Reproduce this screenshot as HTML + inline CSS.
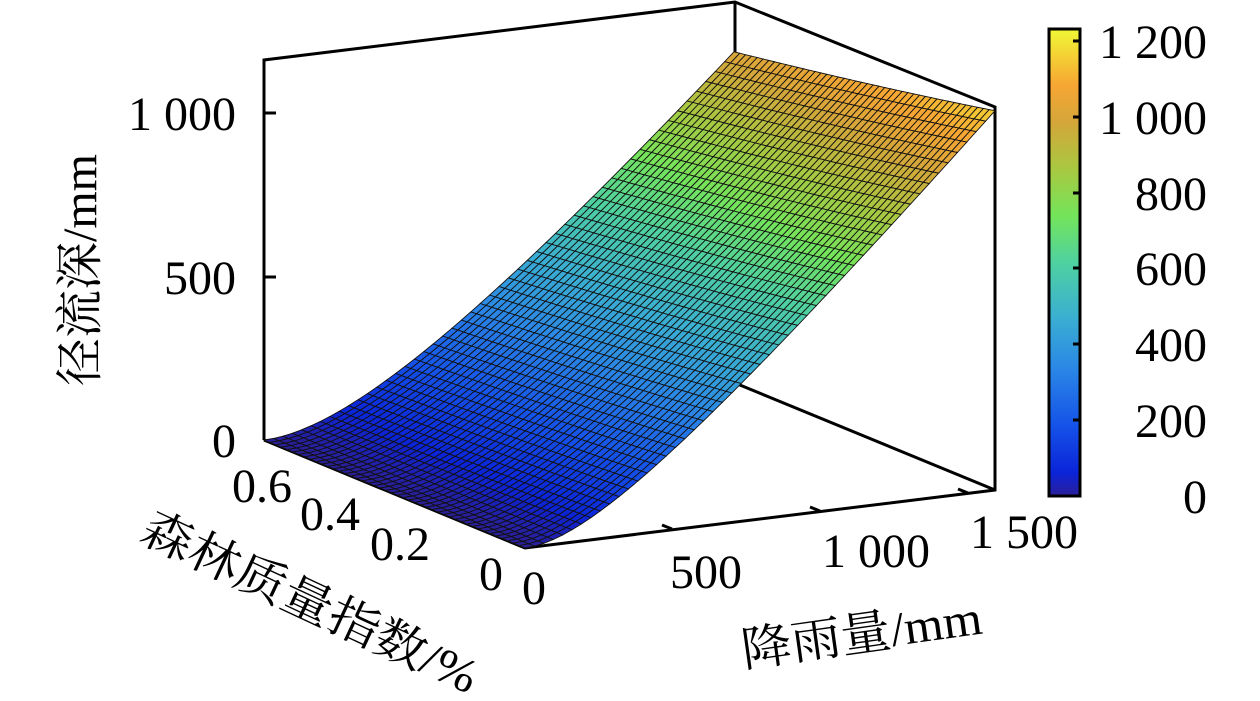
<!DOCTYPE html>
<html><head><meta charset="utf-8">
<style>
html,body{margin:0;padding:0;background:#fff;}
svg{display:block;}
text{font-family:"Liberation Serif","Noto Serif CJK SC","Noto Sans CJK SC",serif;fill:#000;}
</style></head>
<body>
<svg id="s" width="1260" height="701" viewBox="0 0 1260 701" xmlns="http://www.w3.org/2000/svg">
<defs>
<linearGradient id="cb" x1="0" y1="1" x2="0" y2="0">
<stop offset="0" stop-color="#2a1f9a"/>
<stop offset="0.05" stop-color="#0b24d8"/>
<stop offset="0.15" stop-color="#1552e8"/>
<stop offset="0.27" stop-color="#2a86e6"/>
<stop offset="0.38" stop-color="#3aaed2"/>
<stop offset="0.5" stop-color="#4fd1a0"/>
<stop offset="0.6" stop-color="#74e45a"/>
<stop offset="0.7" stop-color="#a8c841"/>
<stop offset="0.8" stop-color="#d4a63a"/>
<stop offset="0.88" stop-color="#f7a633"/>
<stop offset="1" stop-color="#f0f835"/>
</linearGradient>
</defs>
<g id="box" stroke="#000" stroke-width="3" fill="none">
<polyline points="264,440 264,60 735,2 995,107 995,490 525,548 264,440"/>
<line x1="735" y1="2" x2="735" y2="60"/>
<line x1="995" y1="490" x2="735" y2="383"/>
</g>
<g id="surf"></g>
<g stroke="#000" stroke-width="3">
<line x1="264" y1="113" x2="276" y2="113"/>
<line x1="264" y1="277" x2="276" y2="277"/>
<line x1="672" y1="529" x2="662" y2="525"/>
<line x1="820" y1="511" x2="810" y2="507"/>
<line x1="968" y1="493" x2="958" y2="489"/>
</g>
<g font-size="48">
<text x="236" y="130" text-anchor="end">1 000</text>
<text x="236" y="294" text-anchor="end">500</text>
<text x="236" y="457" text-anchor="end">0</text>
<text x="232" y="502">0.6</text>
<text x="300" y="530">0.4</text>
<text x="370" y="560">0.2</text>
<text x="479" y="590">0</text>
<text x="522" y="604">0</text>
<text x="670" y="588">500</text>
<text x="822" y="567">1 000</text>
<text x="970" y="548">1 500</text>
</g>
<text font-size="48" transform="translate(96,270) rotate(-90)" text-anchor="middle">径流深/mm</text>
<text font-size="48" transform="translate(138,540) rotate(25)" textLength="365" lengthAdjust="spacingAndGlyphs">森林质量指数/%</text>
<text font-size="48" transform="translate(744,667) rotate(-8)" textLength="242" lengthAdjust="spacingAndGlyphs">降雨量/mm</text>
<rect x="1049" y="29" width="31" height="467" fill="url(#cb)" stroke="#000" stroke-width="3"/>
<g stroke="#000" stroke-width="3">
<line x1="1073" y1="41" x2="1079" y2="41"/>
<line x1="1073" y1="117" x2="1079" y2="117"/>
<line x1="1073" y1="193" x2="1079" y2="193"/>
<line x1="1073" y1="268" x2="1079" y2="268"/>
<line x1="1073" y1="344" x2="1079" y2="344"/>
<line x1="1073" y1="420" x2="1079" y2="420"/>
</g>
<g font-size="48" text-anchor="end">
<text x="1207" y="58">1 200</text>
<text x="1207" y="134">1 000</text>
<text x="1207" y="210">800</text>
<text x="1207" y="285">600</text>
<text x="1207" y="361">400</text>
<text x="1207" y="437">200</text>
<text x="1207" y="513">0</text>
</g>
</svg>
<script>
(function(){
var stops=[[0,[42,31,154]],[0.05,[11,36,216]],[0.15,[21,82,232]],[0.27,[42,134,230]],[0.38,[58,174,210]],[0.5,[79,209,160]],[0.6,[116,228,90]],[0.7,[168,200,65]],[0.8,[212,166,58]],[0.88,[247,166,51]],[1,[240,248,53]]];
function col(z){var t=Math.max(0,Math.min(1,z/1230));for(var i=1;i<stops.length;i++){if(t<=stops[i][0]){var a=stops[i-1],b=stops[i],u=(t-a[0])/(b[0]-a[0]);return 'rgb('+[0,1,2].map(function(k){return Math.round(a[1][k]+(b[1][k]-a[1][k])*u)}).join(',')+')';}}return 'rgb(240,248,53)';}
function Z(r,f){var S=440+288*(f/0.6);return r*r/(r+S);}
function P(r,f,z){var ur=r/1500,uf=f/0.6;var x=525+ur*470-uf*261;var y=548-ur*58-uf*108-z*0.327;return [x,y];}
var NR=50,NF=45,out=[];
for(var j=NF-1;j>=0;j--){for(var i=NR-1;i>=0;i--){
var r0=1500*i/NR,r1=1500*(i+1)/NR,f0=0.6*j/NF,f1=0.6*(j+1)/NF;
var pts=[[r0,f0],[r1,f0],[r1,f1],[r0,f1]];
var zs=pts.map(function(p){return Z(p[0],p[1]);});
var zc=(zs[0]+zs[1]+zs[2]+zs[3])/4;
var s=pts.map(function(p,k){var q=P(p[0],p[1],zs[k]);return q[0].toFixed(1)+','+q[1].toFixed(1);}).join(' ');
out.push('<polygon points="'+s+'" fill="'+col(zc)+'" stroke="#111" stroke-width="0.9"/>');
}}
document.getElementById('surf').innerHTML=out.join('');
})();
</script>
</body></html>
